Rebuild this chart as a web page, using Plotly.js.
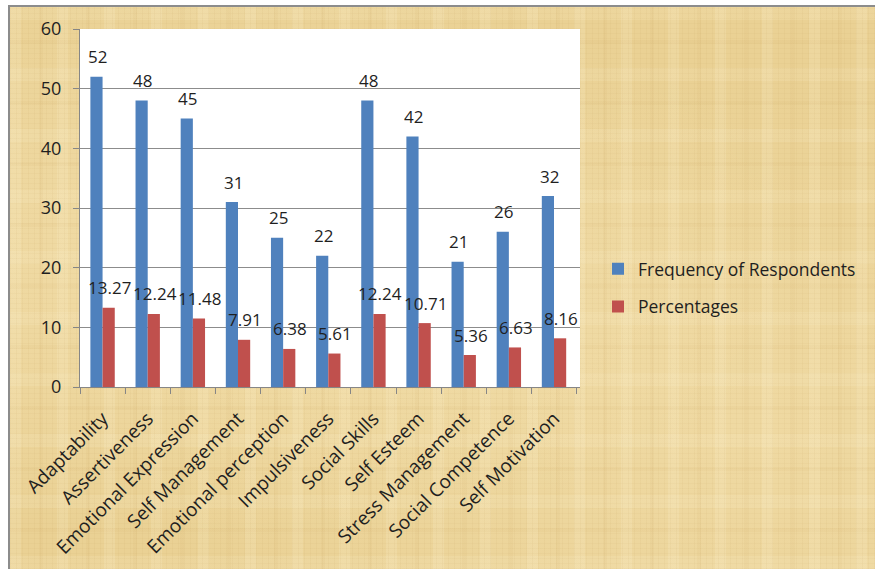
<!DOCTYPE html>
<html>
<head>
<meta charset="utf-8">
<script src="https://cdn.plot.ly/plotly-3.0.1.min.js"></script>
<style>
  html, body { margin: 0; padding: 0; background: #ffffff; width: 875px; height: 569px; overflow: hidden; }
  #frame {
    position: absolute; left: 8px; top: 5px; width: 867px; height: 562px;
    border-top: 2px solid #8c8c8c; border-left: 2px solid #8c8c8c;
    background-color: #ead194;
    background-image:
      repeating-linear-gradient(90deg, rgba(180,140,70,0.06) 0px, rgba(180,140,70,0.06) 1px, transparent 1px, transparent 6px),
      repeating-linear-gradient(0deg, rgba(180,140,70,0.05) 0px, rgba(180,140,70,0.05) 1px, transparent 1px, transparent 5px),
      repeating-linear-gradient(90deg, rgba(255,246,215,0.16) 0px, rgba(255,246,215,0.16) 11px, transparent 11px, transparent 29px, rgba(200,160,90,0.08) 29px, rgba(200,160,90,0.08) 33px, transparent 33px, transparent 47px),
      repeating-linear-gradient(0deg, rgba(255,246,215,0.12) 0px, rgba(255,246,215,0.12) 13px, transparent 13px, transparent 37px, rgba(200,160,90,0.07) 37px, rgba(200,160,90,0.07) 41px, transparent 41px, transparent 61px),
      radial-gradient(ellipse at 25% 45%, rgba(255,242,205,0.35), transparent 65%),
      radial-gradient(ellipse at 85% 75%, rgba(255,242,205,0.25), transparent 60%);
  }
  #chart { position: absolute; left: 0; top: 0; width: 875px; height: 569px; }
</style>
</head>
<body>
<div id="frame"></div>
<div id="chart"></div>
<script>
const categories = ["Adaptability", "Assertiveness", "Emotional Expression", "Self Management",
  "Emotional perception", "Impulsiveness", "Social Skills", "Self Esteem",
  "Stress Management", "Social Competence", "Self Motivation"];
const frequency = [52, 48, 45, 31, 25, 22, 48, 42, 21, 26, 32];
const percentages = [13.27, 12.24, 11.48, 7.91, 6.38, 5.61, 12.24, 10.71, 5.36, 6.63, 8.16];
const seriesNames = ["Frequency of Respondents", "Percentages"];
const yTicks = [0, 10, 20, 30, 40, 50, 60];

const FONT = "Open Sans, sans-serif";
const TXT = "#1f1f1f";

const traces = [
  { type: "bar", name: seriesNames[0], x: categories, y: frequency,
    marker: { color: "#4f81bd" }, legendgroup: "a", hoverinfo: "y" },
  { type: "bar", name: seriesNames[1], x: categories, y: percentages,
    marker: { color: "#c0504d" }, legendgroup: "b", hoverinfo: "y" }
];

const annotations = [];
categories.forEach((c, i) => {
  annotations.push({ x: c, y: frequency[i], xref: "x", yref: "y", text: String(frequency[i]),
    showarrow: false, xanchor: "center", yanchor: "middle", xshift: -5, yshift: 20,
    font: { family: FONT, size: 17, color: TXT } });
  annotations.push({ x: c, y: percentages[i], xref: "x", yref: "y", text: percentages[i].toFixed(2),
    showarrow: false, xanchor: "center", yanchor: "middle", xshift: 7, yshift: 20,
    font: { family: FONT, size: 17, color: TXT } });
});

const layout = {
  width: 875, height: 569,
  margin: { l: 80, r: 295, t: 29, b: 182 },
  paper_bgcolor: "rgba(0,0,0,0)",
  plot_bgcolor: "#ffffff",
  barmode: "group",
  bargap: 0.46,
  bargroupgap: 0,
  showlegend: true,
  legend: {
    x: 1.036, xanchor: "left", y: 0.277, yanchor: "middle",
    bgcolor: "rgba(0,0,0,0)", tracegroupgap: 12,
    font: { family: FONT, size: 17.5, color: TXT }
  },
  xaxis: {
    type: "category",
    tickangle: -45,
    tickson: "boundaries",
    ticks: "outside", ticklen: 6, tickcolor: "#868686",
    showline: true, linecolor: "#868686", linewidth: 1,
    showgrid: false,
    ticklabelstandoff: 12,
    tickfont: { family: FONT, size: 19, color: TXT }
  },
  yaxis: {
    range: [0, 60],
    tickvals: yTicks,
    ticks: "outside", ticklen: 6, tickcolor: "#868686",
    showline: true, linecolor: "#868686", linewidth: 1,
    showgrid: true, gridcolor: "#8c8c8c", gridwidth: 1,
    zeroline: false,
    ticklabelstandoff: 8,
    tickfont: { family: FONT, size: 18, color: TXT }
  },
  annotations: annotations
};

Plotly.newPlot("chart", traces, layout, { displayModeBar: false, staticPlot: true });
</script>
</body>
</html>
